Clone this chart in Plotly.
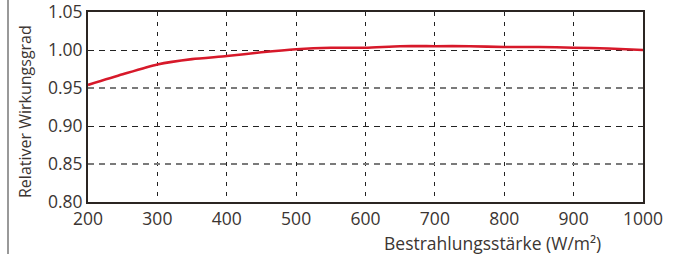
import plotly.graph_objects as go

irradiance = [200, 250, 300, 350, 400, 450, 500, 550, 600, 650, 700, 750, 800, 850, 900, 950, 1000]
rel_eff = [0.954, 0.968, 0.981, 0.988, 0.992, 0.997, 1.001, 1.003, 1.003, 1.005, 1.005, 1.005, 1.004, 1.004, 1.003, 1.002, 1.000]
x_ticks = [200, 300, 400, 500, 600, 700, 800, 900, 1000]
y_ticks = [0.80, 0.85, 0.90, 0.95, 1.00, 1.05]
y_grid_dark = [0.90, 1.00]
y_grid_grey = [0.85, 0.95]

x_title = "Bestrahlungsstärke (W/m²)"
y_title = "Relativer Wirkungsgrad"

txt = "#3b3532"
font = "Open Sans"

L, R, T, B = 88, 37, 12, 52
W, H = 680, 254
plot_h = H - T - B

fig = go.Figure()
# invisible trace to anchor the overlay grid axis
fig.add_trace(go.Scatter(x=[irradiance[0]], y=[rel_eff[0]], yaxis="y2", mode="markers",
                         marker=dict(opacity=0), hoverinfo="skip", showlegend=False))
fig.add_trace(go.Scatter(
    x=irradiance, y=rel_eff, mode="lines",
    line=dict(color="#d7192a", width=2.6, shape="spline", smoothing=0.6),
    hoverinfo="skip", showlegend=False,
))

fig.update_layout(
    width=W, height=H,
    margin=dict(l=L, r=R, t=T, b=B, pad=0),
    paper_bgcolor="white", plot_bgcolor="white",
    font=dict(family=font, color=txt, size=17),
    xaxis=dict(
        range=[200, 1000], tickvals=x_ticks, ticktext=[str(v) for v in x_ticks],
        showline=True, linecolor="#2b2522", linewidth=2, mirror=True,
        showgrid=True, gridcolor="#222222", griddash="4px,6px", gridwidth=1,
        ticks="", zeroline=False, automargin=False, ticklabeloverflow="allow",
        tickfont=dict(size=17.5, color=txt),
    ),
    yaxis=dict(
        range=[0.80, 1.05], tickvals=y_ticks, ticktext=[f"{v:.2f}" for v in y_ticks],
        showline=True, linecolor="#2b2522", linewidth=2, mirror=True,
        showgrid=False,
        minor=dict(tickvals=y_grid_dark, showgrid=True, gridcolor="#222222",
                   griddash="6px,5px", gridwidth=1, ticks=""),
        ticks="", zeroline=False, automargin=False, ticklabeloverflow="allow",
        tickfont=dict(size=17.5, color=txt),
    ),
    yaxis2=dict(
        range=[0.80, 1.05], overlaying="y", side="left", tickvals=y_grid_grey,
        showticklabels=False, showgrid=True, gridcolor="#7a7a7a", griddash="6px,5px",
        gridwidth=1.5, ticks="", zeroline=False, showline=False, automargin=False,
    ),
    annotations=[
        dict(text=x_title, xref="paper", yref="paper", x=(603 - L) / (W - L - R), y=0,
             xanchor="right", yanchor="middle", yshift=-41, showarrow=False,
             font=dict(size=17.5, color=txt, family=font)),
        dict(text=y_title, xref="paper", yref="paper", x=0, y=(H - B - 112) / plot_h,
             xanchor="center", yanchor="middle", xshift=-63, textangle=-90,
             showarrow=False, font=dict(size=16, color=txt, family=font)),
    ],
)
# left border line of the figure frame
fig.add_shape(type="line", xref="paper", yref="paper",
              xsizemode="pixel", xanchor=0, x0=8 - L, x1=8 - L,
              y0=-B / plot_h, y1=1 + T / plot_h,
              line=dict(color="#555555", width=1.2))

fig.write_html("out.html", config={"displayModeBar": False},
               post_script="document.body.style.margin='0';")
